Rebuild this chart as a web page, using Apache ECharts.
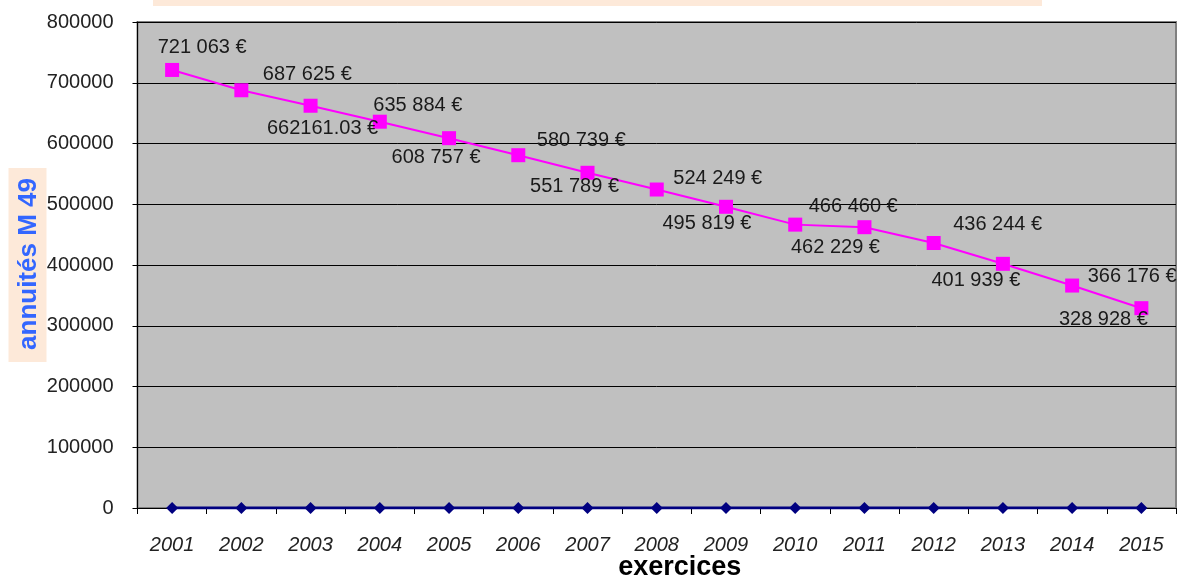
<!DOCTYPE html>
<html><head><meta charset="utf-8">
<script src="https://cdn.jsdelivr.net/npm/echarts@6/dist/echarts.min.js"></script>
<style>html,body{margin:0;padding:0;background:#fff}#c{width:1186px;height:577px}</style>
</head><body><div id="c"></div>
<script>
var categories = ['2001','2002','2003','2004','2005','2006','2007','2008','2009','2010','2011','2012','2013','2014','2015'];
var annuites = [721063, 687625, 662161.03, 635884, 608757, 580739, 551789, 524249, 495819, 466460, 462229, 436244, 401939, 366176, 328928];
var zeroSeries = [0,0,0,0,0,0,0,0,0,0,0,0,0,0,0];
var yTicks = [0,100000,200000,300000,400000,500000,600000,700000,800000];

// label offsets relative to the marker centre (styling only)
var labelOffsets = [[30,-22],[66,-16],[12,23],[38,-16],[-13,19],[63,-15],[-13,14],[61,-11],[-19,17],[58,-18],[-29,20],[64,-18],[-27,17],[60,-9],[-38,11]];
var markSize = 14;

function fmt(v){
  if (Math.round(v) !== v) return String(v) + ' €';
  return String(v).replace(/\B(?=(\d{3})+(?!\d))/g, ' ') + ' €';
}

var chart = echarts.init(document.getElementById('c'));
var magData = annuites.map(function(v,i){
  var o = labelOffsets[i];
  return {value: v, label: {show: true, position: [markSize/2 + o[0], markSize/2 + o[1]], align: 'center', verticalAlign: 'middle', formatter: fmt(v)}};
});

chart.setOption({
  animation: false,
  backgroundColor: '#ffffff',
  textStyle: {fontFamily: 'Liberation Sans, Arial, sans-serif'},
  graphic: [{
    type: 'rect', left: 153, top: -10, shape: {width: 889, height: 16}, style: {fill: '#FDE9D9'}, silent: true
  }],
  grid: {left: 137.5, right: 10, top: 22, bottom: 69, outerBoundsMode: 'none', containLabel: false, show: true, backgroundColor: '#C0C0C0', borderColor: '#808080', borderWidth: 2},
  xAxis: {
    type: 'category', data: categories, boundaryGap: true,
    axisLine: {lineStyle: {color: '#000', width: 1}},
    axisTick: {show: true, length: 6, lineStyle: {color: '#000'}},
    axisLabel: {fontSize: 20, fontStyle: 'italic', color: '#222', margin: 27, fontFamily: 'Liberation Sans, Arial, sans-serif'},
    name: 'exercices', nameLocation: 'middle', nameGap: 46, nameMoveOverlap: false,
    nameTextStyle: {fontSize: 27, fontWeight: 'bold', color: '#000', verticalAlign: 'top', padding: [0, 0, 0, 46], fontFamily: 'Liberation Sans, Arial, sans-serif'}
  },
  yAxis: {
    type: 'value', min: 0, max: 800000, interval: 100000,
    axisLine: {show: true, lineStyle: {color: '#000'}},
    axisTick: {show: true, length: 5, lineStyle: {color: '#000'}},
    axisLabel: {fontSize: 20, color: '#222', margin: 24, formatter: function(v){ return String(v); }, fontFamily: 'Liberation Sans, Arial, sans-serif'},
    splitLine: {show: true, lineStyle: {color: '#000', width: 1}},
    name: 'annuités M 49', nameLocation: 'middle', nameRotate: 90, nameGap: 91, nameMoveOverlap: false,
    nameTextStyle: {fontSize: 26, fontWeight: 'bold', color: '#3366FF', backgroundColor: '#FDE9D9', padding: [7, 10, 5, 12], fontFamily: 'Liberation Sans, Arial, sans-serif'}
  },
  series: [
    {
      type: 'line', data: zeroSeries, symbol: 'diamond', symbolSize: 12,
      lineStyle: {color: '#000080', width: 3}, itemStyle: {color: '#000080'}, z: 3
    },
    {
      type: 'line', data: magData, symbol: 'rect', symbolSize: markSize,
      lineStyle: {color: '#FF00FF', width: 2}, itemStyle: {color: '#FF00FF'},
      label: {show: true, fontSize: 20, color: '#1a1a1a', fontFamily: 'Liberation Sans, Arial, sans-serif'},
      labelLayout: {hideOverlap: false}, z: 4
    }
  ]
});
</script>
</body></html>
